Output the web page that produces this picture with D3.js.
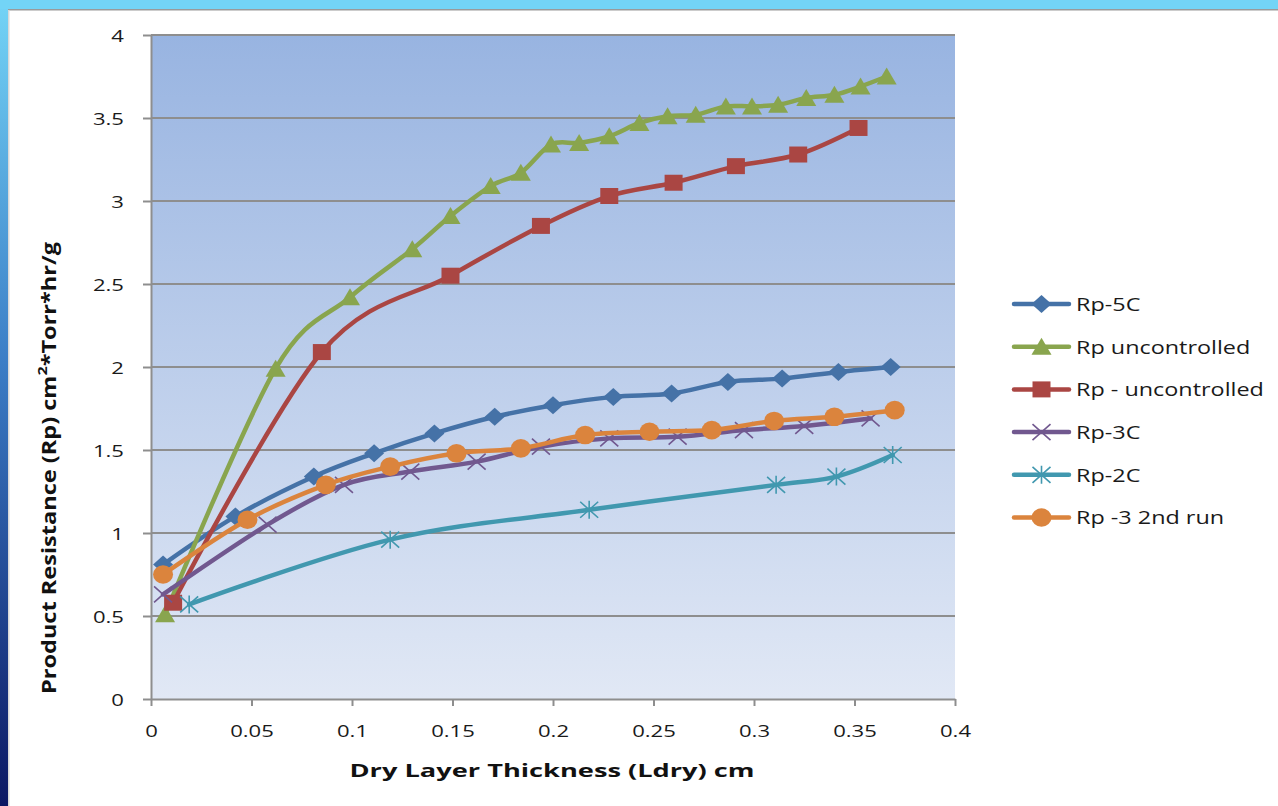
<!DOCTYPE html>
<html>
<head>
<meta charset="utf-8">
<script src="https://cdn.jsdelivr.net/npm/d3@7"></script>
<style>
  html, body { margin: 0; padding: 0; background: #fff; }
  svg { display: block; }
</style>
</head>
<body>
<svg id="chart" width="1278" height="806"></svg>
<script>
// ---------------- data ----------------
const xTicks = [0, 0.05, 0.1, 0.15, 0.2, 0.25, 0.3, 0.35, 0.4];
const xTickLabels = ["0", "0.05", "0.1", "0.15", "0.2", "0.25", "0.3", "0.35", "0.4"];
const yTicks = [0, 0.5, 1, 1.5, 2, 2.5, 3, 3.5, 4];
const yTickLabels = ["0", "0.5", "1", "1.5", "2", "2.5", "3", "3.5", "4"];

const seriesNames = ["Rp-5C", "Rp uncontrolled", "Rp - uncontrolled", "Rp-3C", "Rp-2C", "Rp -3 2nd run"];
const seriesColors = ["#4572a7", "#89a54e", "#aa4643", "#71588f", "#4198af", "#db843d"];
const seriesMarkers = ["diamond", "triangle", "square", "x", "star", "circle"];

const rp5cX = [0.006, 0.042, 0.081, 0.111, 0.141, 0.171, 0.200, 0.230, 0.259, 0.287, 0.314, 0.342, 0.368];
const rp5cY = [0.81, 1.10, 1.34, 1.48, 1.60, 1.70, 1.77, 1.82, 1.84, 1.91, 1.93, 1.97, 2.00];

const rpUncX = [0.007, 0.062, 0.099, 0.130, 0.149, 0.169, 0.184, 0.199, 0.213, 0.228, 0.243, 0.257, 0.271, 0.286, 0.299, 0.312, 0.326, 0.340, 0.353, 0.366];
const rpUncY = [0.51, 1.99, 2.42, 2.71, 2.91, 3.09, 3.17, 3.34, 3.35, 3.39, 3.47, 3.51, 3.52, 3.57, 3.57, 3.58, 3.62, 3.64, 3.69, 3.75];

const rpUnc2X = [0.011, 0.085, 0.149, 0.194, 0.228, 0.260, 0.291, 0.322, 0.352];
const rpUnc2Y = [0.58, 2.09, 2.55, 2.85, 3.03, 3.11, 3.21, 3.28, 3.44];

const rp3cX = [0.006, 0.058, 0.096, 0.129, 0.162, 0.194, 0.228, 0.262, 0.295, 0.325, 0.358];
const rp3cY = [0.63, 1.05, 1.29, 1.37, 1.43, 1.52, 1.57, 1.58, 1.62, 1.645, 1.69];

const rp2cX = [0.019, 0.119, 0.218, 0.311, 0.341, 0.369];
const rp2cY = [0.57, 0.96, 1.14, 1.29, 1.34, 1.47];

const rp3runX = [0.006, 0.048, 0.087, 0.119, 0.152, 0.184, 0.216, 0.248, 0.279, 0.310, 0.340, 0.370];
const rp3runY = [0.75, 1.08, 1.29, 1.40, 1.48, 1.51, 1.59, 1.61, 1.62, 1.675, 1.70, 1.74];

const xTitle = "Dry Layer Thickness (Ldry) cm";
const yTitleParts = ["Product Resistance (Rp) cm", "2", "*Torr*hr/g"];

// ---------------- build ----------------
const seriesX = [rp5cX, rpUncX, rpUnc2X, rp3cX, rp2cX, rp3runX];
const seriesY = [rp5cY, rpUncY, rpUnc2Y, rp3cY, rp2cY, rp3runY];
const series = seriesNames.map((name, i) => ({
  name, color: seriesColors[i], marker: seriesMarkers[i],
  points: seriesX[i].map((x, j) => ({ x, y: seriesY[i][j] }))
}));

const W = 1278, H = 806;
const plot = { left: 151, right: 955, top: 35, bottom: 699 };
const FONT = "'Open Sans', 'DejaVu Sans', sans-serif";
const SX = 1.3; // horizontal stretch of the original picture's text

const svg = d3.select("#chart");
const defs = svg.append("defs");

// frame gradients
const lg = defs.append("linearGradient").attr("id", "leftBand").attr("x1", 0).attr("y1", 0).attr("x2", 0).attr("y2", 1);
lg.append("stop").attr("offset", "0%").attr("stop-color", "#74d4f6");
lg.append("stop").attr("offset", "45%").attr("stop-color", "#3b7dc6");
lg.append("stop").attr("offset", "100%").attr("stop-color", "#0b1763");

const pg = defs.append("linearGradient").attr("id", "plotBg").attr("x1", 0).attr("y1", 0).attr("x2", 0).attr("y2", 1);
pg.append("stop").attr("offset", "0%").attr("stop-color", "#98b4e1");
pg.append("stop").attr("offset", "100%").attr("stop-color", "#e1e8f5");

// background frame
svg.append("rect").attr("x", 0).attr("y", 0).attr("width", W).attr("height", H).attr("fill", "#ffffff");
svg.append("rect").attr("x", 0).attr("y", 0).attr("width", 8).attr("height", H).attr("fill", "url(#leftBand)");
svg.append("rect").attr("x", 0).attr("y", 0).attr("width", W).attr("height", 9).attr("fill", "#73d4f6");
svg.append("rect").attr("x", 8).attr("y", 9).attr("width", W - 8).attr("height", 1.5).attr("fill", "#9a9a9a");
svg.append("rect").attr("x", 8).attr("y", 10).attr("width", 1.5).attr("height", H - 10).attr("fill", "#d8d8d8");

// scales
const x = d3.scaleLinear().domain([0, 0.4]).range([plot.left, plot.right]);
const y = d3.scaleLinear().domain([0, 4]).range([plot.bottom, plot.top]);

// plot area
svg.append("rect")
  .attr("x", plot.left).attr("y", plot.top)
  .attr("width", plot.right - plot.left).attr("height", plot.bottom - plot.top)
  .attr("fill", "url(#plotBg)");

// gridlines
svg.append("g").selectAll("line").data(yTicks.filter(d => d > 0)).join("line")
  .attr("x1", plot.left).attr("x2", plot.right)
  .attr("y1", d => y(d)).attr("y2", d => y(d))
  .attr("stroke", "#8e8e8e").attr("stroke-width", 2);

// y axis
const yAxis = d3.axisLeft(y).tickValues(yTicks).tickFormat((d, i) => yTickLabels[i]).tickSize(8).tickSizeOuter(0);
const gy = svg.append("g").attr("transform", `translate(${plot.left},0)`).call(yAxis);
gy.select(".domain").attr("stroke", "#8e8e8e").attr("stroke-width", 2);
gy.selectAll(".tick line").attr("stroke", "#8e8e8e").attr("stroke-width", 2);
gy.selectAll(".tick text")
  .attr("x", null).attr("dy", null)
  .attr("font-family", FONT).attr("font-size", 17).attr("fill", "#1a1a1a")
  .attr("text-anchor", "end").attr("dominant-baseline", "central")
  .attr("transform", `translate(-27,0) scale(${SX},1)`);

// x axis
const xAxis = d3.axisBottom(x).tickValues(xTicks).tickFormat((d, i) => xTickLabels[i]).tickSize(7).tickSizeOuter(0);
const gx = svg.append("g").attr("transform", `translate(0,${plot.bottom})`).call(xAxis);
gx.select(".domain").attr("stroke", "#8e8e8e").attr("stroke-width", 2);
gx.selectAll(".tick line").attr("stroke", "#8e8e8e").attr("stroke-width", 2);
gx.selectAll(".tick text")
  .attr("y", null).attr("dy", null)
  .attr("font-family", FONT).attr("font-size", 17).attr("fill", "#1a1a1a")
  .attr("text-anchor", "middle").attr("dominant-baseline", "central")
  .attr("transform", `translate(0,32) scale(${SX},1)`);

// marker paths
function markerPath(type) {
  const w = 9, h = 8;
  switch (type) {
    case "diamond": return `M0,${-h - 1}L${w + 1},0L0,${h + 1}L${-w - 1},0Z`;
    case "triangle": return `M0,${-h - 1}L${w + 1},${h}L${-w - 1},${h}Z`;
    case "square": return `M${-w},${-h}H${w}V${h}H${-w}Z`;
    case "x": return `M${-w},${-h}L${w},${h}M${-w},${h}L${w},${-h}`;
    case "star": return `M${-w},${-h}L${w},${h}M${-w},${h}L${w},${-h}M0,${-h - 1}V${h + 1}`;
  }
  return "";
}
function drawMarker(g, type, color, cx, cy) {
  if (type === "circle") {
    g.append("ellipse").attr("cx", cx).attr("cy", cy).attr("rx", 10).attr("ry", 9.3).attr("fill", color);
  } else if (type === "x" || type === "star") {
    g.append("path").attr("transform", `translate(${cx},${cy})`).attr("d", markerPath(type))
      .attr("fill", "none").attr("stroke", color).attr("stroke-width", 1.6);
  } else {
    g.append("path").attr("transform", `translate(${cx},${cy})`).attr("d", markerPath(type)).attr("fill", color);
  }
}

// series
const line = d3.line().x(d => x(d.x)).y(d => y(d.y)).curve(d3.curveCardinal.tension(0));
const gs = svg.append("g");
series.forEach(s => {
  const g = gs.append("g");
  g.append("path").datum(s.points).attr("d", line)
    .attr("fill", "none").attr("stroke", s.color).attr("stroke-width", 4.5)
    .attr("stroke-linejoin", "round").attr("stroke-linecap", "round");
  s.points.forEach(p => drawMarker(g, s.marker, s.color, x(p.x), y(p.y)));
});

// legend
const leg = svg.append("g");
series.forEach((s, i) => {
  const cy = 304 + i * 42.7;
  const g = leg.append("g");
  g.append("line").attr("x1", 1014).attr("x2", 1069).attr("y1", cy).attr("y2", cy)
    .attr("stroke", s.color).attr("stroke-width", 4.5).attr("stroke-linecap", "round");
  drawMarker(g, s.marker, s.color, 1041.5, cy);
  g.append("text").text(s.name)
    .attr("font-family", FONT).attr("font-size", 18).attr("fill", "#1a1a1a")
    .attr("dominant-baseline", "central")
    .attr("transform", `translate(1076,${cy}) scale(${SX},1)`);
});

// axis titles
svg.append("text").text(xTitle)
  .attr("x", 552).attr("y", 770)
  .attr("text-anchor", "middle").attr("dominant-baseline", "central")
  .attr("font-family", FONT).attr("font-weight", "bold").attr("font-size", 18).attr("fill", "#111")
  .attr("textLength", 405).attr("lengthAdjust", "spacingAndGlyphs");

const yt = svg.append("text")
  .attr("transform", "translate(49,468) rotate(-90)")
  .attr("text-anchor", "middle").attr("dominant-baseline", "central")
  .attr("font-family", FONT).attr("font-weight", "bold").attr("font-size", 19).attr("fill", "#111")
  .attr("textLength", 452).attr("lengthAdjust", "spacingAndGlyphs");
yt.append("tspan").text(yTitleParts[0]);
yt.append("tspan").text(yTitleParts[1]).attr("font-size", 13).attr("dy", -7);
yt.append("tspan").text(yTitleParts[2]).attr("dy", 7);
</script>
</body>
</html>
